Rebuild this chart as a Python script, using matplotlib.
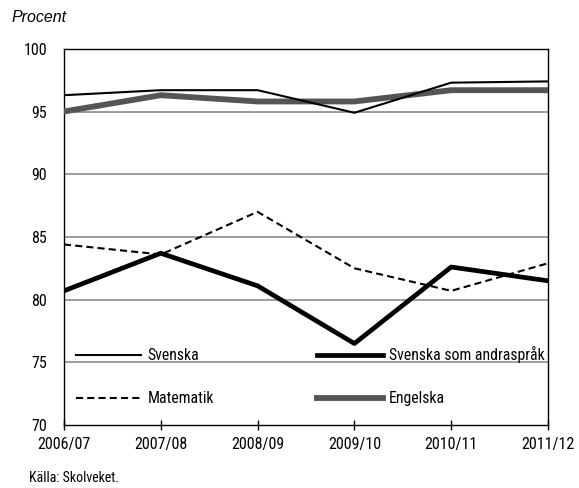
import matplotlib
matplotlib.use("Agg")
import matplotlib.pyplot as plt

plt.rcParams['font.family'] = ['Roboto Condensed', 'DejaVu Sans']

# Läsår och andel elever (procent)
years = ['2006/07', '2007/08', '2008/09', '2009/10', '2010/11', '2011/12']
svenska = [96.3, 96.7, 96.7, 94.9, 97.3, 97.4]
svenska_andra = [80.7, 83.7, 81.1, 76.5, 82.6, 81.5]
matematik = [84.4, 83.6, 87.0, 82.5, 80.7, 82.9]
engelska = [95.0, 96.3, 95.8, 95.8, 96.7, 96.7]

yticks = [70, 75, 80, 85, 90, 95, 100]

fig = plt.figure(figsize=(5.79, 4.88), dpi=100)
ax = fig.add_axes([0.1105, 0.129, 0.836, 0.771])

x = range(len(years))
ax.plot(x, svenska, color='black', lw=1.5, label='Svenska', zorder=4)
ax.plot(x, matematik, color='black', lw=1.5, ls=(0, (3.4, 2)), label='Matematik', zorder=4)
ax.plot(x, svenska_andra, color='black', lw=3.4, label='Svenska som andraspråk', zorder=4)
ax.plot(x, engelska, color='#555555', lw=4.2, label='Engelska', zorder=3)

ax.set_xlim(0, len(years) - 1)
ax.set_ylim(70, 100)
ax.set_xticks(list(x))
ax.set_xticklabels(years)
ax.set_yticks(yticks)
ax.tick_params(axis='y', length=0, labelsize=11.5, pad=12)
ax.tick_params(axis='x', direction='inout', length=7, width=1, labelsize=11.5, pad=5)

for v in yticks[1:-1]:
    ax.axhline(v, color='#8c8c8c', lw=1.2, zorder=1)

for s in ax.spines.values():
    s.set_linewidth(1.0)
    s.set_color('black')

leg = ax.legend(loc='center left', bbox_to_anchor=(0.0248, 0.130), ncol=2, frameon=False,
                fontsize=11.3, handlelength=4.15, handletextpad=0.4, columnspacing=6.6,
                labelspacing=1.8, borderpad=0, borderaxespad=0)

fig.text(12 / 579, 0.964, 'Procent', fontsize=11.5, style='italic',
         family=['Liberation Sans', 'DejaVu Sans'], va='center')
fig.text(29 / 579, 1 - 478 / 488, 'Källa: Skolveket.', fontsize=10, va='center')

fig.savefig('out.png', dpi=100)
